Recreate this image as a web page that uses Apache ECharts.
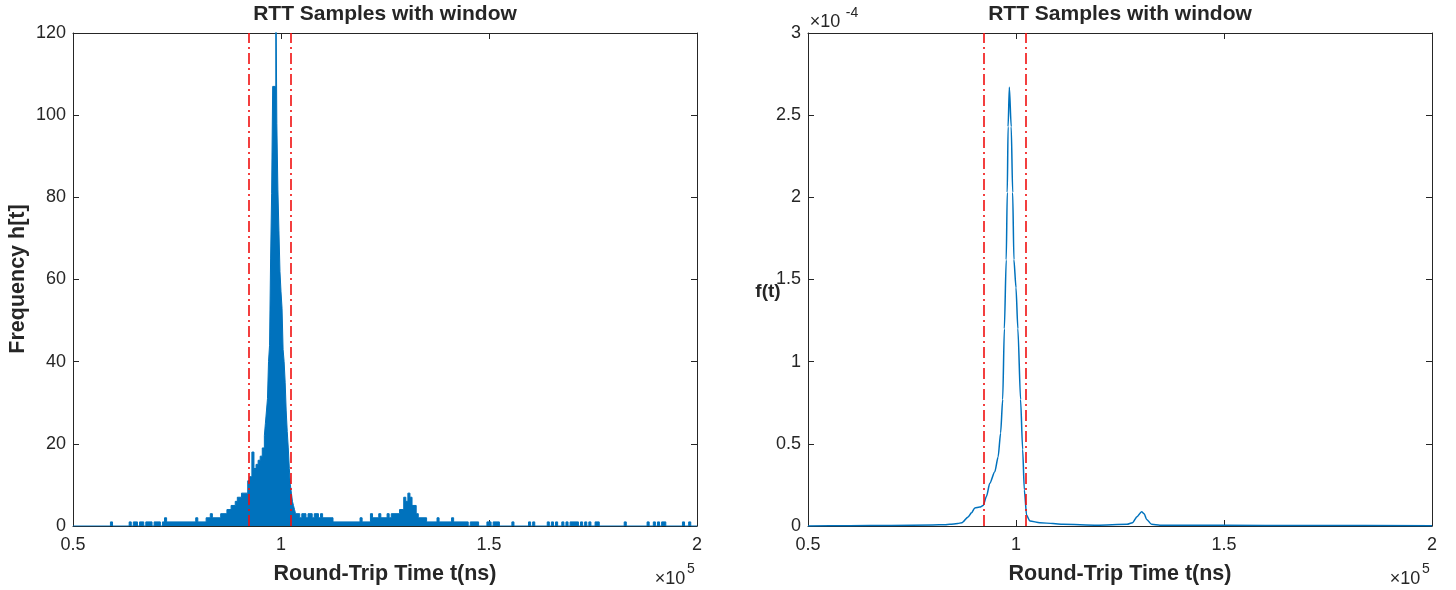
<!DOCTYPE html>
<html>
<head>
<meta charset="utf-8">
<script src="https://cdn.jsdelivr.net/npm/echarts@6/dist/echarts.min.js"></script>
<style>
html,body{margin:0;padding:0;background:#fff;}
#chart{width:1456px;height:590px;}
</style>
</head>
<body>
<div id="chart"></div>
<script>
// ---- data ----
const chartTitle = 'RTT Samples with window';
const xLabel = 'Round-Trip Time t(ns)';
const yLabelLeft = 'Frequency h[t]';
const yLabelRight = 'f(t)';
const xTicks = [50000, 100000, 150000, 200000];         // shown as 0.5, 1, 1.5, 2 (x10^5)
const yTicksLeft = [0, 20, 40, 60, 80, 100, 120];
const yTicksRight = [0, 0.5, 1, 1.5, 2, 2.5, 3];          // x10^-4
const windowBounds = [92350, 102300];                     // ns

// histogram bins: [left edge (ns), count]
const histBins = [
  [50000,0],[59000,1],[59500,0],
  [63500,1],[64000,0],[64500,1],[65500,0],[66000,1],[67000,0],[67500,1],[69000,0],[69500,1],[71000,0],[71500,1],[72000,2],[72500,1],
  [79500,2],[80000,1],
  [82000,2],[83000,3],[83500,2],[85500,3],[87000,4],[88000,5],[89000,6],[89500,7],[90500,8],[92000,11],[92500,12],
  [93000,18],[93500,14],[94000,15],[94500,16],[95000,17],[95500,19],[96000,22],[96250,25],[96500,28],[96750,31],
  [97000,40],[97250,44],[97500,65],[97750,81],[98000,107],[98750,135],[99000,98],[99250,82],[99500,72],[99750,62],
  [100000,57],[100250,53],[100500,43],[100750,40],[101000,35],[101250,28],[101500,23],[101750,19],[102000,14],
  [102250,10],[102500,8],[102750,6],[103000,5],[103250,4],[103500,3],[104500,2],[105000,3],[106000,2],[106500,3],
  [107500,2],[108000,3],[109000,2],[109500,3],[110000,2],[112500,1],[119000,2],[119500,1],[121500,3],[122000,2],
  [123500,3],[124000,2],[125500,3],[126000,2],[126500,3],[128500,4],[129500,7],[130000,6],[130500,8],[131000,7],
  [131500,5],[132500,3],[133000,2],[135000,1],[137500,2],[138000,1],[141000,2],[141500,1],[145000,0],[145500,1],
  [147500,0],[149500,1],[150500,0],[151000,1],[152500,0],[155500,1],[156000,0],[159500,1],[160000,0],[160500,1],
  [161000,0],[164000,1],[164500,0],[165000,1],[165500,0],[166000,1],[166500,0],[167500,1],[168000,0],[168500,1],
  [169000,0],[169500,1],[171500,0],[172000,1],[172500,0],[173000,1],[173500,0],[174000,1],[174500,0],[175500,1],
  [176500,0],[182500,1],[183000,0],[188000,1],[188500,0],[189500,1],[190000,0],[190500,1],[191000,0],[191500,1],
  [192500,0],[196500,1],[197000,0],[198000,1],[198500,0],[200000,0]
];

// kernel density estimate: t (ns)
const kdeT = [50000,60000,70000,80000,83000,84100,86000,87000,88500,89300,90100,91300,92100,92900,93700,94900,
  95700,96300,96800,97200,97650,97900,98100,98400,98850,99200,99500,100000,100450,101100,101600,102000,102550,
  103350,105750,108900,111300,119500,126700,128000,129100,130200,130800,131400,132600,134600,150000,170000,200000];
// density values in units of 1e-4
const kdeF = [0,0.002,0.003,0.006,0.008,0.01,0.015,0.02,0.055,0.08,0.11,0.115,0.125,0.18,0.26,0.33,
  0.42,0.565,0.77,1.2,1.62,2.03,2.43,2.67,2.43,2.03,1.62,1.45,1.2,0.77,0.465,0.22,0.065,
  0.03,0.02,0.015,0.01,0.005,0.01,0.02,0.057,0.087,0.075,0.04,0.01,0.005,0.004,0.003,0.001];

// ---- chart ----
const FONT = '"Liberation Sans", Arial, Helvetica, sans-serif';
const INK = '#262626';
const BLUE = '#0072BD';
const grids = [
  {left: 73, top: 33, width: 624, height: 493},
  {left: 808, top: 33, width: 624, height: 493}
];
function xAx(g, pos) {
  return {
    gridIndex: g, type: 'value', position: pos, min: xTicks[0], max: xTicks[xTicks.length - 1],
    interval: xTicks[1] - xTicks[0],
    axisLine: {show: true, onZero: false, lineStyle: {color: INK, width: 1}},
    axisTick: {show: true, inside: true, length: 6, lineStyle: {color: INK}},
    axisLabel: {show: pos === 'bottom', color: INK, fontSize: 18, fontFamily: FONT, margin: 10,
      formatter: v => String(v / 1e5)},
    splitLine: {show: false}
  };
}
function yAx(g, pos, ticks) {
  return {
    gridIndex: g, type: 'value', position: pos, min: ticks[0], max: ticks[ticks.length - 1],
    interval: ticks[1] - ticks[0],
    axisLine: {show: true, onZero: false, lineStyle: {color: INK, width: 1}},
    axisTick: {show: true, inside: true, length: 6, lineStyle: {color: INK}},
    axisLabel: {show: pos === 'left', color: INK, fontSize: 18, fontFamily: FONT, margin: 7},
    splitLine: {show: false}
  };
}
const markLine = {
  symbol: 'none', silent: true, label: {show: false},
  lineStyle: {color: '#F01010', width: 1.6, type: [11, 4, 2, 4]},
  data: windowBounds.map(v => ({xAxis: v}))
};
function txt(x, y, text, size, bold, align, valign, rot) {
  return {type: 'text', x: x, y: y, rotation: rot || 0, silent: true,
    style: {text: text, fill: INK, font: (bold ? 'bold ' : '') + size + 'px ' + FONT,
      textAlign: align || 'center', textVerticalAlign: valign || 'middle'}};
}
const chart = echarts.init(document.getElementById('chart'), null, {renderer: 'canvas'});
chart.setOption({
  animation: false,
  backgroundColor: '#ffffff',
  grid: grids,
  xAxis: [xAx(0, 'bottom'), xAx(0, 'top'), xAx(1, 'bottom'), xAx(1, 'top')],
  yAxis: [yAx(0, 'left', yTicksLeft), yAx(0, 'right', yTicksLeft), yAx(1, 'left', yTicksRight), yAx(1, 'right', yTicksRight)],
  series: [
    {type: 'line', xAxisIndex: 0, yAxisIndex: 0, data: histBins, step: 'end', symbol: 'none',
      lineStyle: {color: BLUE, width: 1}, areaStyle: {color: BLUE, opacity: 1}, clip: true, markLine: markLine},
    {type: 'line', xAxisIndex: 2, yAxisIndex: 2, data: kdeT.map((t, i) => [t, kdeF[i]]), symbol: 'none',
      smooth: 0.25, smoothMonotone: 'x', lineStyle: {color: BLUE, width: 1.5}, clip: true, markLine: markLine}
  ],
  graphic: [
    txt(385, 14, chartTitle, 21, true),
    txt(1120, 14, chartTitle, 21, true),
    txt(385, 574, xLabel, 21.5, true),
    txt(1120, 574, xLabel, 21.5, true),
    txt(18, 279, yLabelLeft, 21.5, true, 'center', 'middle', Math.PI / 2),
    txt(768, 292, yLabelRight, 19, true),
    txt(670, 579, '\u00d710', 18, false),
    txt(691, 569, '5', 14, false),
    txt(1405, 579, '\u00d710', 18, false),
    txt(1426, 569, '5', 14, false),
    txt(825, 22, '\u00d710', 18, false),
    txt(852, 13, '-4', 14, false)
  ]
});
</script>
</body>
</html>
